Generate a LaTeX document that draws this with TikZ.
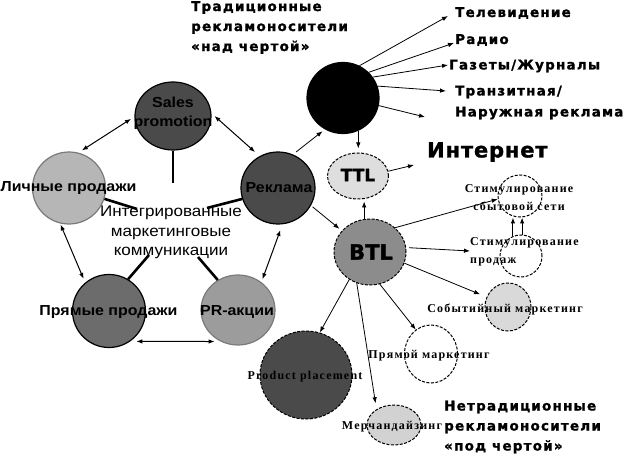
\documentclass[tikz,border=0pt]{standalone}
\usepackage{fontspec}
\setmainfont{Liberation Sans}[FakeStretch=1.1]
\newfontfamily\hvy[LetterSpace=9,FakeBold=1.2]{DejaVu Sans}
\newfontfamily\hvyi[LetterSpace=4,FakeBold=1.2]{DejaVu Sans}
\newfontfamily\hvyp[FakeBold=1.5]{DejaVu Sans}
\newfontfamily\srf[LetterSpace=10]{Liberation Serif}
\usetikzlibrary{arrows.meta,shapes.geometric}
\definecolor{gdark}{HTML}{4A4A4A}
\definecolor{glight}{HTML}{B6B6B6}
\definecolor{gpp}{HTML}{6C6C6C}
\definecolor{gpr}{HTML}{9C9C9C}
\definecolor{gttl}{HTML}{DEDEDE}
\definecolor{gbtl}{HTML}{8C8C8C}
\definecolor{gev}{HTML}{D9D9D9}
\definecolor{gme}{HTML}{D2D2D2}
\definecolor{gedge}{HTML}{7A7A7A}
\tikzset{
  circ/.style={ellipse, draw=black, line width=1.2pt, inner sep=0pt},
  dsh/.style={ellipse, draw=black, line width=1pt, dash pattern=on 3pt off 1.5pt, inner sep=0pt},
  arr/.style={-{Latex[length=6pt,width=4.5pt]}, line width=0.8pt},
  darr/.style={{Latex[length=6pt,width=4.5pt]}-{Latex[length=6pt,width=4.5pt]}, line width=1pt},
  thk/.style={line width=2.6pt},
  lab/.style={font=\fontsize{14.5}{19}\selectfont\bfseries, inner sep=0pt},
  mid/.style={font=\fontsize{15.5}{19.5}\selectfont, inner sep=0pt, align=center},
  hv/.style={font=\fontsize{13.5}{20}\hvy\bfseries, inner sep=0pt, align=left},
  sl/.style={font=\fontsize{12}{18}\srf\bfseries, inner sep=0pt},
}
\begin{document}
\begin{tikzpicture}[x=1pt,y=-1pt]
\useasboundingbox (0,0) rectangle (624,457);
% pentagon circles
\node[circ, fill=gdark, minimum width=76pt, minimum height=68pt] (sp) at (173,116) {};
\node[circ, fill=glight, draw=gedge, minimum width=73pt, minimum height=72pt] (lp) at (69,188) {};
\node[circ, fill=gdark, minimum width=74pt, minimum height=72pt] (rk) at (278,188) {};
\node[circ, fill=gpp, minimum width=73pt, minimum height=73pt] (pp) at (109,311) {};
\node[circ, fill=gpr, draw=gedge, minimum width=74pt, minimum height=70pt] (pr) at (238,310) {};
% right side circles
\node[circ, fill=black, minimum width=72pt, minimum height=71pt] (bk) at (343,98) {};
\node[dsh, fill=gttl, minimum width=61pt, minimum height=46pt] (ttl) at (358,176) {};
\node[dsh, fill=gbtl, minimum width=72pt, minimum height=66pt] (btl) at (370,252) {};
\node[dsh, fill=white, minimum width=44pt, minimum height=42pt] (ss1) at (520,196) {};
\node[dsh, fill=white, minimum width=42pt, minimum height=42pt] (ss2) at (521,256) {};
\node[dsh, fill=gev, minimum width=46pt, minimum height=48pt] (ev) at (508,307) {};
\node[dsh, fill=white, minimum width=53pt, minimum height=58pt] (dm) at (431,354) {};
\node[dsh, fill=gme, minimum width=54pt, minimum height=40pt] (me) at (394,425) {};
\node[dsh, fill=gdark, minimum width=92pt, minimum height=88pt] (ppl) at (306,375) {};

% free ends
\coordinate (hubS) at (173,183);
\coordinate (hubL) at (137,209);
\coordinate (hubR) at (207,208);
\coordinate (hubP) at (149,255);
\coordinate (hubQ) at (198,257);
\coordinate (eT) at (448,16);
\coordinate (eR) at (454,43);
\coordinate (eG) at (448,65);
\coordinate (eTr) at (446,91);
\coordinate (eN) at (425,117);
\coordinate (eI) at (414,165);

% thick spokes
\draw[thk] (sp.270) -- (hubS);
\draw[thk] (lp.343) -- (hubL);
\draw[thk] (rk.197) -- (hubR);
\draw[thk] (pp.59) -- (hubP);
\draw[thk] (pr.124) -- (hubQ);

% pentagon arrows
\draw[darr, shorten >=4pt, shorten <=4pt] (lp.75) -- (sp.181);
\draw[darr, shorten >=6pt, shorten <=4pt] (sp.4) -- (rk.120);
\draw[darr, shorten >=4pt, shorten <=1pt] (lp.256) -- (pp.130);
\draw[darr, shorten >=3pt, shorten <=6pt] (rk.277) -- (pr.50);
\draw[darr, shorten >=6pt, shorten <=6pt] (pp.305) -- (pr.241);

% black circle arrows
\draw[arr, shorten <=4pt, shorten >=3pt] (rk.66) -- (bk.240);
\draw[arr] (bk.63) -- (eT);
\draw[arr] (bk.45) -- (eR);
\draw[arr] (bk.35) -- (eG);
\draw[arr] (bk.19) -- (eTr);
\draw[arr] (bk.348) -- (eN);
\draw[arr, shorten >=4pt] (bk.295) -- (bk.295 |- ttl.north);
\draw[arr, shorten >=2pt] (btl.100) -- (btl.100 |- ttl.south);
\draw[arr] (ttl.9) -- (eI);
\draw[arr, shorten <=2pt, shorten >=3pt] (rk.332) -- (btl.143);

% BTL arrows
\draw[arr] (btl.44) -- (ss1.188);
\draw[arr, shorten <=3pt] (btl.7) -- (470,251);
\draw[arr, shorten >=7pt] (btl.342) -- (ev.155);
\draw[arr] (btl.287) -- (dm.122);
\draw[arr, shorten >=6pt] (btl.247) -- (me.138);
\draw[arr] (btl.233) -- (ppl.72);
\draw[arr, line width=1pt] (ss2.112) -- (ss2.112 |- ss1.south);
\draw[arr, line width=1pt] (ss2.87) -- (ss2.87 |- ss1.south);

% labels
\node[lab, align=center] (tsp) at (173,113.5) {Sales\\promotion};
\node[lab] (tlp) at (68.5,188) {Личные продажи};
\node[lab] (trk) at (279,188) {Реклама};
\node[lab] (tpp) at (108.5,312) {Прямые продажи};
\node[lab] (tpr) at (237,312) {PR-акции};
\node[mid] (tmid) at (171,232.5) {Интегрированные\\маркетинговые\\коммуникации};

\node[font=\fontsize{17}{20}\hvyp\bfseries, inner sep=0pt] (tttl) at (358,175) {TTL};
\node[font=\fontsize{21}{24}\hvyp\bfseries, inner sep=0pt] (tbtl) at (371,252) {BTL};

\node[hv, anchor=west] (ttop) at (191,27.5) {Традиционные\\рекламоносители\\«над чертой»};
\node[hv, anchor=west] (ttv) at (455,13) {Телевидение};
\node[hv, anchor=west] (trad) at (455,40) {Радио};
\node[hv, anchor=west] (tgaz) at (449,66) {Газеты/Журналы};
\node[hv, anchor=west, font=\fontsize{13.5}{21}\hvy\bfseries] (ttr) at (455,102.5) {Транзитная/\\Наружная реклама};
\node[font=\fontsize{21}{24}\hvyi\bfseries, inner sep=0pt, anchor=west] (tinet) at (427,152) {Интернет};
\node[hv, anchor=west] (tbot) at (444,427) {Нетрадиционные\\рекламоносители\\«под чертой»};

\node[sl, align=center] (tss1) at (519,198) {Стимулирование\\сбытовой сети};
\node[sl, align=left, anchor=west] (tss2) at (470,252) {Стимулирование\\продаж};
\node[sl] (tev) at (505,309) {Событийный маркетинг};
\node[sl] (tdm) at (429,356) {Прямой маркетинг};
\node[sl] (tppl) at (305,377) {Product placement};
\node[sl] (tme) at (392,427) {Мерчандайзинг};
\end{tikzpicture}
\end{document}
